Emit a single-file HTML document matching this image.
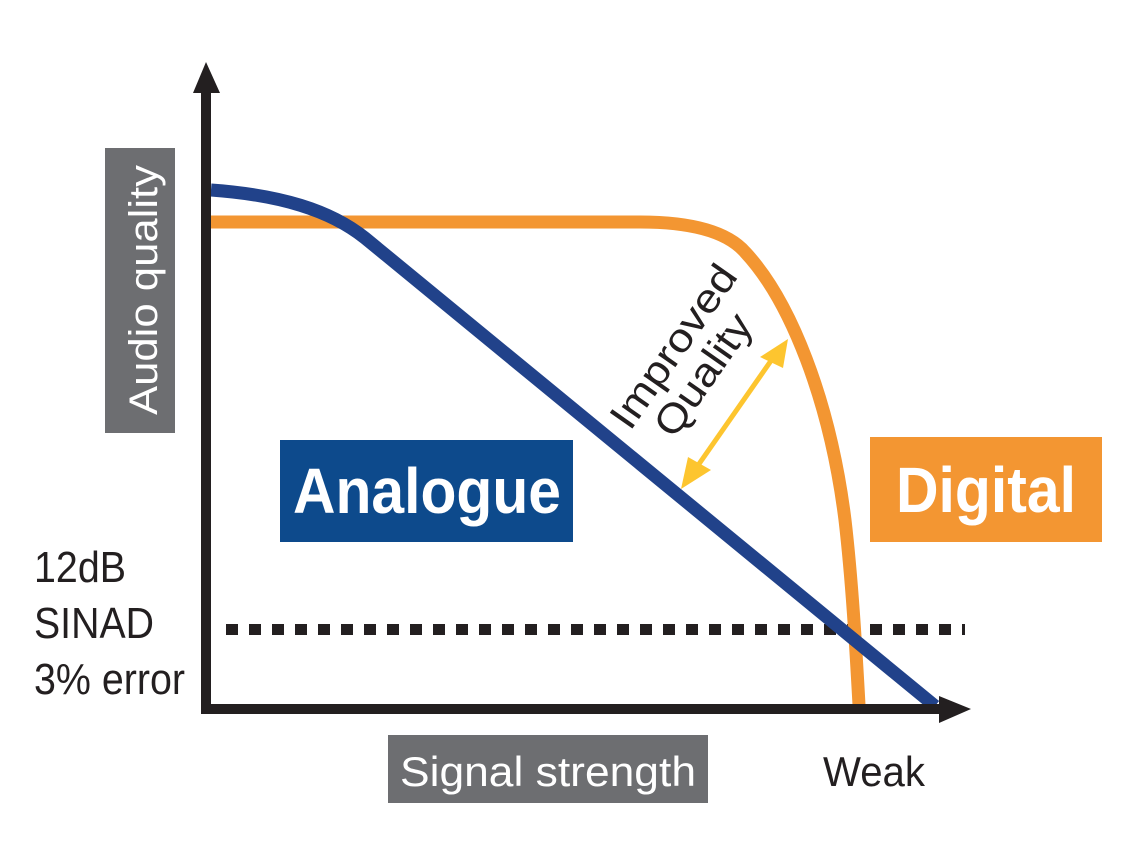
<!DOCTYPE html>
<html><head><meta charset="utf-8"><style>
html,body{margin:0;padding:0;background:#fff;width:1148px;height:844px;overflow:hidden}
svg{display:block}
text{font-family:"Liberation Sans",Arial,sans-serif}
</style></head><body>
<svg width="1148" height="844" viewBox="0 0 1148 844">
<rect width="1148" height="844" fill="#fff"/>
<line x1="226" y1="629.5" x2="965" y2="629.5" stroke="#231f20" stroke-width="11" stroke-dasharray="12 11"/>
<path d="M211 222 L640 222 C700 222 730 235 745 252 C790 300 830 400 845 520 C852 580 856 650 859 705" fill="none" stroke="#f39632" stroke-width="13"/>
<path d="M211 190 C280 195 330 210 365 238 L935 706" fill="none" stroke="#21428a" stroke-width="13"/>
<line x1="206" y1="92" x2="206" y2="714" stroke="#231f20" stroke-width="10"/>
<polygon points="206,62 193,93 220,93" fill="#231f20"/>
<line x1="201" y1="709" x2="942" y2="709" stroke="#231f20" stroke-width="10"/>
<polygon points="971,709 939,696 939,723" fill="#231f20"/>
<line x1="775" y1="355" x2="692" y2="474" stroke="#fdc52f" stroke-width="5"/>
<polygon points="788,339 760,357 783,368" fill="#fdc52f"/>
<polygon points="681,489 688,457 711,470" fill="#fdc52f"/>
<rect x="105" y="148" width="70" height="285" fill="#6d6e71"/>
<text transform="translate(157,290) rotate(-90)" text-anchor="middle" font-size="40" fill="#fff" textLength="250" lengthAdjust="spacingAndGlyphs">Audio quality</text>
<rect x="280" y="440" width="293" height="102" fill="#0d4a8c"/>
<text x="427" y="513" text-anchor="middle" font-size="64" font-weight="bold" fill="#fff" textLength="268" lengthAdjust="spacingAndGlyphs">Analogue</text>
<rect x="870" y="437" width="232" height="105" fill="#f39632"/>
<text x="986" y="512" text-anchor="middle" font-size="64" font-weight="bold" fill="#fff" textLength="180" lengthAdjust="spacingAndGlyphs">Digital</text>
<rect x="388" y="735" width="320" height="68" fill="#6d6e71"/>
<text x="548" y="786" text-anchor="middle" font-size="42" fill="#fff" textLength="296" lengthAdjust="spacingAndGlyphs">Signal strength</text>
<text x="823" y="786" font-size="42" fill="#231f20" textLength="102" lengthAdjust="spacingAndGlyphs">Weak</text>
<text x="34" y="582" font-size="44" fill="#231f20" textLength="92" lengthAdjust="spacingAndGlyphs">12dB</text>
<text x="34" y="638" font-size="44" fill="#231f20" textLength="120" lengthAdjust="spacingAndGlyphs">SINAD</text>
<text x="34" y="694" font-size="44" fill="#231f20" textLength="151" lengthAdjust="spacingAndGlyphs">3% error</text>
<text transform="translate(630,432) rotate(-55)" font-size="40" fill="#231f20" textLength="190" lengthAdjust="spacingAndGlyphs">Improved</text>
<text transform="translate(674,440) rotate(-55)" font-size="40" fill="#231f20" textLength="140" lengthAdjust="spacingAndGlyphs">Quality</text>
</svg>
</body></html>
